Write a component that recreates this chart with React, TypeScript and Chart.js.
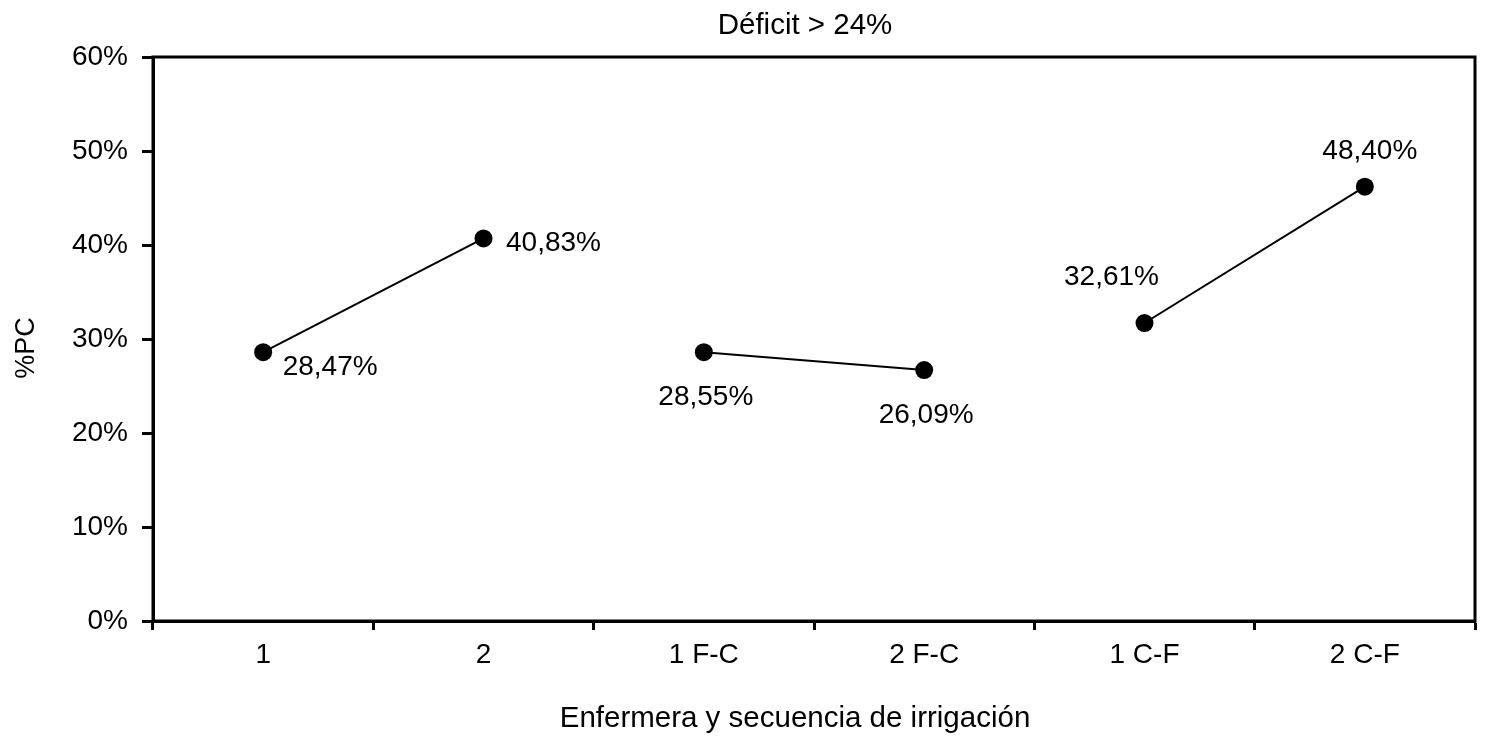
import React, { useEffect, useRef } from "react";
import { Chart, registerables } from "chart.js";

Chart.register(...registerables);

const categories = ["1", "2", "1 F-C", "2 F-C", "1 C-F", "2 C-F"];
const values = [28.6, 40.7, 28.6, 26.7, 31.7, 46.2];
const valueLabels = ["28,47%", "40,83%", "28,55%", "26,09%", "32,61%", "48,40%"];
const segments = [
  [0, 1],
  [2, 3],
  [4, 5],
];
const yTicks = [0, 10, 20, 30, 40, 50, 60];
const chartTitle = "Déficit > 24%";
const xTitle = "Enfermera y secuencia de irrigación";
const yTitle = "%PC";

// label offsets (style, not data)
const labelDx = [67, 70, 2, 2, -33, 5];
const labelDy = [15, 5, 45, 45, -46, -35];

const FONT = "'Liberation Sans', Arial, Helvetica, sans-serif";

export default function App() {
  const ref = useRef<HTMLCanvasElement | null>(null);

  useEffect(() => {
    document.body.style.margin = "0";
    const canvas = ref.current;
    if (!canvas) return;

    const datasets = segments.map((seg) => ({
      data: values.map((v, i) => (seg.includes(i) ? v : null)),
      borderColor: "#000",
      backgroundColor: "#000",
      borderWidth: 2,
      pointRadius: 9,
      pointBackgroundColor: "#000",
      pointBorderColor: "#000",
      pointBorderWidth: 0,
      spanGaps: false,
      tension: 0,
    }));

    const decor = {
      id: "decor",
      afterDraw(chart: any) {
        const { ctx, chartArea } = chart;
        const ca = chartArea;
        ctx.save();
        ctx.strokeStyle = "#000";
        ctx.lineWidth = 3;
        ctx.strokeRect(ca.left, ca.top, ca.right - ca.left, ca.bottom - ca.top);
        ctx.fillStyle = "#000";
        ctx.font = `28px ${FONT}`;
        ctx.textAlign = "center";
        ctx.textBaseline = "middle";
        const xs = chart.scales.x;
        const ys = chart.scales.y;
        values.forEach((v, i) => {
          const px = xs.getPixelForValue(i);
          const py = ys.getPixelForValue(v);
          ctx.fillText(valueLabels[i], px + labelDx[i], py + labelDy[i]);
        });
        ctx.font = `29.5px ${FONT}`;
        ctx.fillText(chartTitle, (ca.left + ca.right) / 2 - 9, 26);
        ctx.font = `29.5px ${FONT}`;
        ctx.fillText(xTitle, (ca.left + ca.right) / 2 - 19, 719);
        ctx.save();
        ctx.translate(27, 348);
        ctx.rotate(-Math.PI / 2);
        ctx.font = `27px ${FONT}`;
        ctx.fillText(yTitle, 0, 0);
        ctx.restore();
        ctx.restore();
      },
    };

    const chart = new Chart(canvas, {
      type: "line",
      data: { labels: categories, datasets: datasets as any },
      options: {
        animation: false,
        responsive: false,
        maintainAspectRatio: false,
        layout: { padding: { top: 57, right: 16, left: 0, bottom: 0 } },
        plugins: {
          legend: { display: false },
          tooltip: { enabled: false },
          title: { display: false },
        },
        scales: {
          x: {
            type: "category",
            offset: true,
            grid: {
              offset: true,
              drawOnChartArea: false,
              drawTicks: true,
              tickLength: 9,
              tickWidth: 3,
              tickColor: "#000",
              color: "#000",
            },
            border: { display: true, color: "#000", width: 3 },
            ticks: {
              color: "#000",
              font: { size: 28, family: FONT },
              padding: 8,
              maxRotation: 0,
              autoSkip: false,
            },
            afterFit(scale: any) {
              scale.height = 744 - 621;
            },
          },
          y: {
            min: 0,
            max: 60,
            afterBuildTicks(scale: any) {
              scale.ticks = yTicks.map((v) => ({ value: v }));
            },
            grid: {
              drawOnChartArea: false,
              drawTicks: true,
              tickLength: 11,
              tickWidth: 3,
              tickColor: "#000",
              color: "#000",
            },
            border: { display: true, color: "#000", width: 3 },
            ticks: {
              color: "#000",
              font: { size: 28, family: FONT },
              padding: 14,
              callback: (v: any) => `${v}%`,
            },
            afterFit(scale: any) {
              scale.width = 153;
            },
          },
        },
      },
      plugins: [decor],
    });

    return () => chart.destroy();
  }, []);

  return (
    <div style={{ position: "absolute", left: 0, top: 0, width: 1491, height: 744 }}>
      <canvas ref={ref} width={1491} height={744} style={{ width: 1491, height: 744 }} />
    </div>
  );
}
